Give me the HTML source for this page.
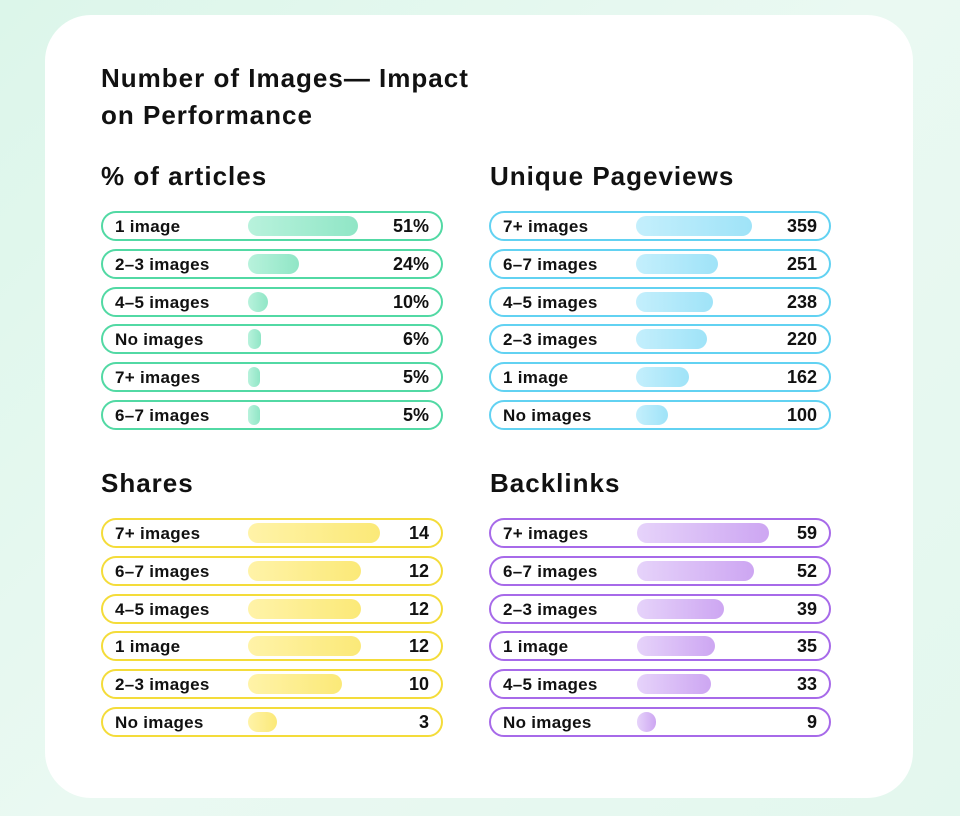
<!DOCTYPE html>
<html><head><meta charset="utf-8"><style>
*{margin:0;padding:0;box-sizing:border-box}
body{width:960px;height:816px;background:linear-gradient(135deg,#dcf6ea,#eaf9f2 50%,#e3f7ee);position:relative;overflow:hidden;font-family:"Liberation Sans",sans-serif;color:#111}
.card{position:absolute;left:45px;top:15px;width:868px;height:783px;background:#fff;border-radius:46px}
.t{position:absolute;font-weight:bold;font-size:26px;line-height:37px;letter-spacing:1px}
.row{position:absolute;width:342px;height:30px;border:2px solid;border-radius:15px;background:#fff}
.row .l{position:absolute;left:12px;top:4px;font-size:17px;font-weight:bold;letter-spacing:0.3px}
.row .v{position:absolute;right:12px;top:3px;font-size:18px;font-weight:bold}
.row .b{position:absolute;top:3px;height:20px;border-radius:10px}
.g{border-color:#52d9a4}.g .b{background:linear-gradient(90deg,#b8f2dc,#90e6c6)}
.c{border-color:#62d2f2}.c .b{background:linear-gradient(90deg,#c4effc,#9fe3f8)}
.y{border-color:#f4dc3a}.y .b{background:linear-gradient(90deg,#fff3a8,#fbe978)}
.p{border-color:#a76ae9}.p .b{background:linear-gradient(90deg,#e6d3fa,#cda6f2)}
</style></head><body>
<div class="card"></div>
<div class="t" style="left:101px;top:60px">Number of Images— Impact<br>on Performance</div>
<div class="t" style="left:101px;top:158px">% of articles</div>
<div class="t" style="left:490px;top:158px">Unique Pageviews</div>
<div class="t" style="left:101px;top:465px">Shares</div>
<div class="t" style="left:490px;top:465px">Backlinks</div>
<div id="rows"></div>
<script>
const sets=[
 ['g',101,211,248,[['1 image','51%',110],['2–3 images','24%',51],['4–5 images','10%',20],['No images','6%',13],['7+ images','5%',12],['6–7 images','5%',12]]],
 ['c',489,211,636,[['7+ images','359',116],['6–7 images','251',82],['4–5 images','238',77],['2–3 images','220',71],['1 image','162',53],['No images','100',32]]],
 ['y',101,518,248,[['7+ images','14',132],['6–7 images','12',113],['4–5 images','12',113],['1 image','12',113],['2–3 images','10',94],['No images','3',29]]],
 ['p',489,518,637,[['7+ images','59',132],['6–7 images','52',117],['2–3 images','39',87],['1 image','35',78],['4–5 images','33',74],['No images','9',19]]]
];
let h='';
for(const [c,x,y,bx,rs] of sets){rs.forEach((r,i)=>{
 h+=`<div class="row ${c}" style="left:${x}px;top:${y+i*37.8}px"><span class="l">${r[0]}</span><span class="b" style="left:${bx-x-2}px;width:${r[2]}px"></span><span class="v">${r[1]}</span></div>`;});}
document.getElementById('rows').innerHTML=h;
</script>
</body></html>
